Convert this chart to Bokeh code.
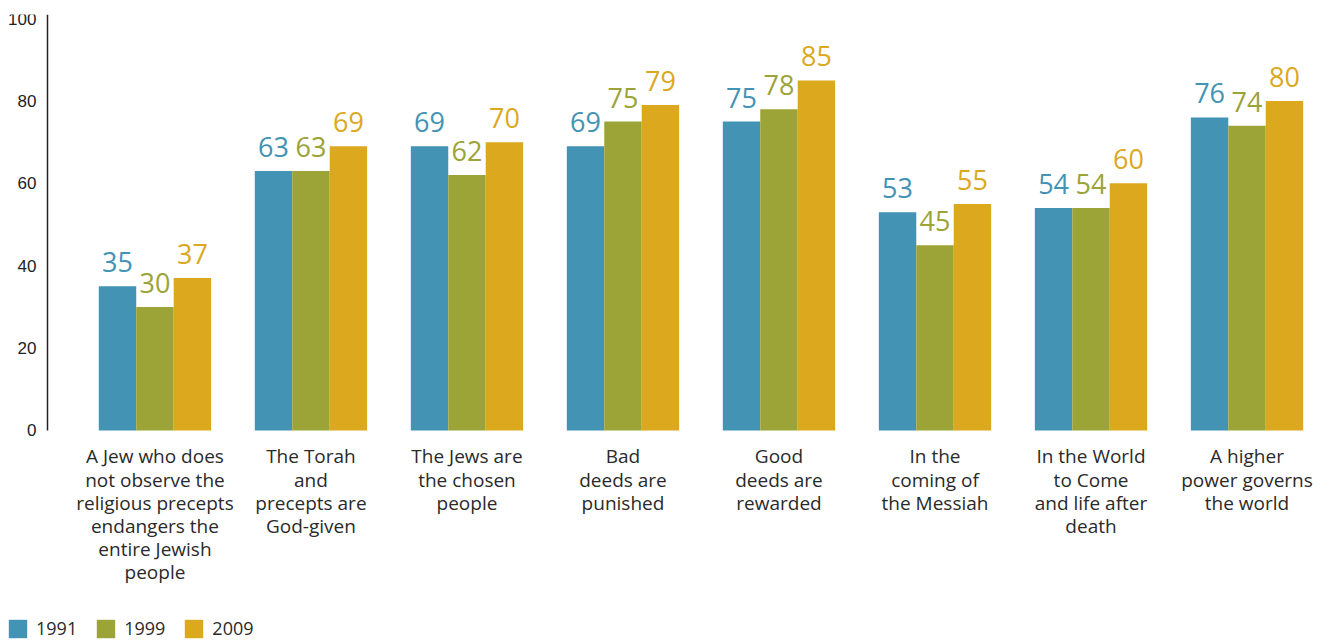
from bokeh.plotting import figure
from bokeh.models import Range1d, FixedTicker, ColumnDataSource, Legend, LegendItem
from bokeh.core.properties import value
from bokeh.embed import file_html
from bokeh.resources import INLINE

categories = [
    "A Jew who does\nnot observe the\nreligious precepts\nendangers the\nentire Jewish\npeople",
    "The Torah\nand\nprecepts are\nGod-given",
    "The Jews are\nthe chosen\npeople",
    "Bad\ndeeds are\npunished",
    "Good\ndeeds are\nrewarded",
    "In the\ncoming of\nthe Messiah",
    "In the World\nto Come\nand life after\ndeath",
    "A higher\npower governs\nthe world",
]
years = ["1991", "1999", "2009"]
v1991 = [35, 63, 69, 69, 75, 53, 54, 76]
v1999 = [30, 63, 62, 75, 78, 45, 54, 74]
v2009 = [37, 69, 70, 79, 85, 55, 60, 80]
y_ticks = [0, 20, 40, 60, 80, 100]

colors = ["#4393B5", "#9CA337", "#DBA81E"]
series = [v1991, v1999, v2009]
offsets = [-0.24, 0.0, 0.24]
bar_w = 0.24

W, H = 1325, 640
p = figure(width=W, height=H, output_backend="svg", toolbar_location=None,
           x_range=Range1d(-0.990, 7.471), y_range=Range1d(-51, 101),
           min_border_left=0, min_border_top=14, min_border_bottom=0, min_border_right=5)
p.outline_line_color = None
p.grid.grid_line_color = None
p.background_fill_color = "white"
p.border_fill_color = "white"

renderers = []
idx = list(range(len(categories)))
for s, c, off, yr in zip(series, colors, offsets, years):
    src = ColumnDataSource(dict(x=[i + off for i in idx], top=s, lab=[str(v) for v in s]))
    r = p.vbar(x="x", top="top", width=bar_w, bottom=0, source=src,
               fill_color=c, line_color=None)
    renderers.append((yr, r))
    p.text(x="x", y="top", text="lab", source=src, text_color=c,
           text_font=value("Open Sans"), text_font_size="27px",
           text_align="center", text_baseline="alphabetic", y_offset=-24)

# y axis (pinned at the left edge of the bar area)
p.yaxis.fixed_location = -0.689
p.yaxis.bounds = (0, 101)
p.yaxis.ticker = FixedTicker(ticks=y_ticks)
p.yaxis.axis_line_color = "#222222"
p.yaxis.axis_line_width = 1.5
p.yaxis.major_tick_line_color = None
p.yaxis.minor_tick_line_color = None
p.yaxis.major_label_text_font = "Liberation Sans"
p.yaxis.major_label_text_font_size = "17px"
p.yaxis.major_label_text_color = "#222222"
p.yaxis.major_label_standoff = 5

# x axis (pinned at zero)
p.xaxis.fixed_location = 0
p.xaxis.ticker = FixedTicker(ticks=idx)
p.xaxis.major_label_overrides = {i: categories[i] for i in idx}
p.xaxis.axis_line_color = None
p.xaxis.major_tick_line_color = None
p.xaxis.minor_tick_line_color = None
p.xaxis.major_label_text_font = "Open Sans"
p.xaxis.major_label_text_font_size = "19px"
p.xaxis.major_label_text_color = "#2a2a2a"
p.xaxis.major_label_standoff = 7
p.xaxis.major_label_text_line_height = 0.89

legend = Legend(items=[LegendItem(label=yr, renderers=[r]) for yr, r in renderers],
                orientation="horizontal", location=(6, 0),
                glyph_width=23, glyph_height=23, label_standoff=7, spacing=17,
                padding=0, margin=0, border_line_color=None, background_fill_alpha=0,
                label_text_font="Open Sans", label_text_font_size="18px",
                label_text_color="#2a2a2a")
p.add_layout(legend, "center")

open("out.html", "w").write(file_html(p, INLINE))
